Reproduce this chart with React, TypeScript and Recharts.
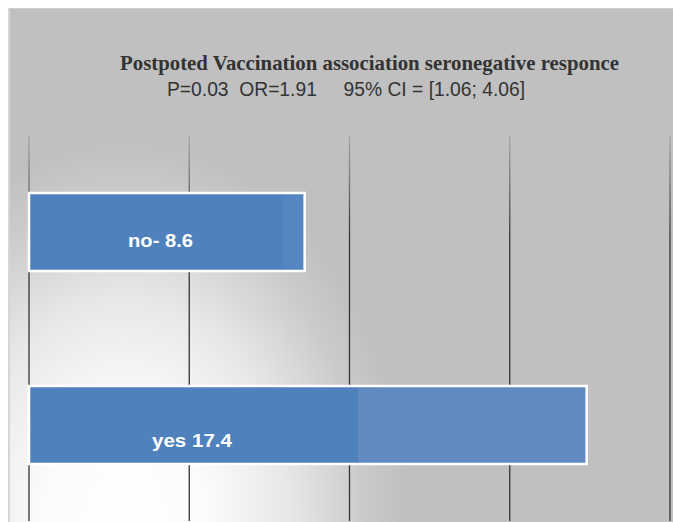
import React from "react";
import { BarChart, Bar, XAxis, YAxis, CartesianGrid, Cell } from "recharts";

const categories = ["no", "yes"];
const values = [8.6, 17.4];
const labelSeparators = ["- ", " "];
const xTicks = [0, 5, 10, 15, 20];
const titleLine1 = "Postpoted Vaccination association seronegative responce";
const titleLine2 = "P=0.03  OR=1.91     95% CI = [1.06; 4.06]";

const data = categories.map((name, i) => ({ name, value: values[i] }));

const W = 665;
const H = 514;

const BarLabel = (props: any) => {
  const { x, y, height, index } = props;
  const text = `${categories[index]}${labelSeparators[index]}${values[index]}`;
  const cfg =
    index === 0
      ? { dx: 99, dy: 15, len: 65, size: 19 }
      : { dx: 123, dy: 22, len: 80, size: 19 };
  return (
    <text
      x={x + cfg.dx}
      y={y + height / 2 + cfg.dy}
      fill="#ffffff"
      fontFamily="'Liberation Sans', Arial, sans-serif"
      fontWeight="bold"
      fontSize={cfg.size}
      textLength={cfg.len}
      lengthAdjust="spacingAndGlyphs"
      style={{ whiteSpace: "pre" }}
    >
      {text}
    </text>
  );
};

export default function App() {
  return (
    <div style={{ position: "relative", width: 657, height: 506 }}>
      <div
        style={{
          position: "fixed",
          left: 8,
          top: 8,
          width: W,
          height: H,
          overflow: "hidden",
          background:
            "radial-gradient(ellipse 280px 380px at 115px 512px, #ffffff 0%, #fbfbfb 30%, #e8e8e8 58%, #cbcbcb 85%, #c0c0c0 100%), #c0c0c0",
          boxSizing: "border-box",
          borderLeft: "2px solid #d6d6d6",
          borderTop: "1px solid #d0d0d0",
        }}
      >
        <BarChart
          width={W - 2}
          height={H - 1}
          data={data}
          layout="vertical"
          margin={{ top: 126, right: 3, left: 19, bottom: 1 }}
          barSize={78}
          style={{ position: "absolute", left: 0, top: 0 }}
        >
          <defs>
            <linearGradient id="gridGrad" x1="0" y1="126" x2="0" y2="230" gradientUnits="userSpaceOnUse">
              <stop offset="0%" stopColor="#a8a8a8" />
              <stop offset="100%" stopColor="#333333" />
            </linearGradient>
            <linearGradient id="barNo" x1="0" y1="0" x2="1" y2="0">
              <stop offset="0%" stopColor="#4f81bd" />
              <stop offset="92%" stopColor="#4f81bd" />
              <stop offset="92%" stopColor="#5686c0" />
              <stop offset="100%" stopColor="#5686c0" />
            </linearGradient>
            <linearGradient id="barYes" x1="0" y1="0" x2="1" y2="0">
              <stop offset="0%" stopColor="#4f81bd" />
              <stop offset="59%" stopColor="#4f81bd" />
              <stop offset="59%" stopColor="#618ac0" />
              <stop offset="100%" stopColor="#618ac0" />
            </linearGradient>
          </defs>
          <CartesianGrid horizontal={false} stroke="url(#gridGrad)" strokeWidth={1.3} />
          <XAxis type="number" domain={[0, 20]} ticks={xTicks} hide />
          <YAxis type="category" dataKey="name" hide />
          <Bar
            dataKey="value"
            isAnimationActive={false}
            stroke="#ffffff"
            strokeWidth={2.5}
            label={<BarLabel />}
          >
            {data.map((d, i) => (
              <Cell key={d.name} fill={i === 0 ? "url(#barNo)" : "url(#barYes)"} />
            ))}
          </Bar>
        </BarChart>
        <svg
          width={W}
          height={120}
          style={{ position: "absolute", left: 0, top: 0, pointerEvents: "none" }}
        >
          <text
            x={110}
            y={61}
            fill="#333333"
            fontFamily="'Liberation Serif', 'Times New Roman', serif"
            fontWeight="bold"
            fontSize={21}
            textLength={499}
            lengthAdjust="spacingAndGlyphs"
            style={{ whiteSpace: "pre" }}
          >
            {titleLine1}
          </text>
          <text
            x={157}
            y={87}
            fill="#333333"
            fontFamily="'Liberation Sans', Arial, sans-serif"
            fontSize={20}
            textLength={358}
            lengthAdjust="spacingAndGlyphs"
            style={{ whiteSpace: "pre" }}
          >
            {titleLine2}
          </text>
        </svg>
      </div>
    </div>
  );
}
